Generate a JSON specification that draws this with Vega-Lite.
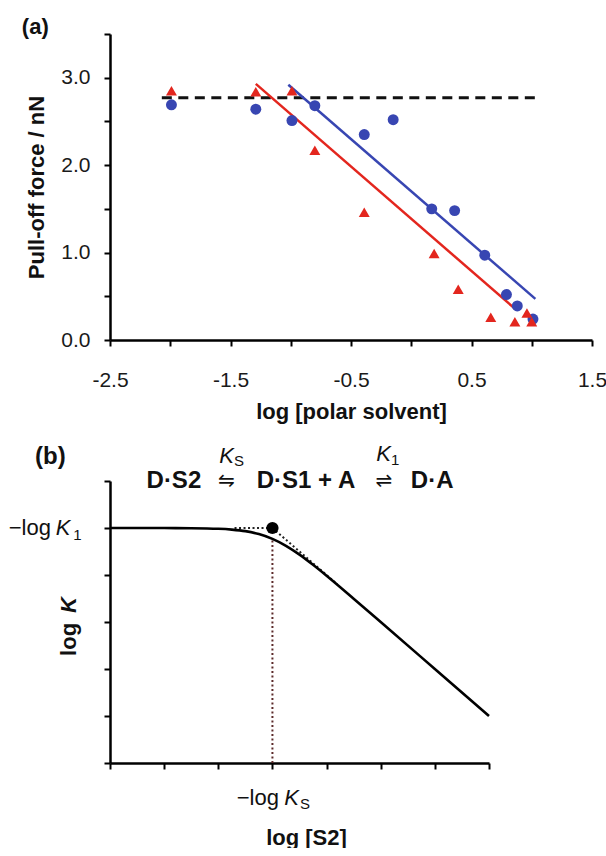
{
  "$schema": "https://vega.github.io/schema/vega-lite/v6.json",
  "background": "white",
  "padding": {"left": 8, "top": 16, "right": 0, "bottom": 0},
  "spacing": 20,
  "config": {
    "view": {"stroke": null},
    "font": "Liberation Sans",
    "axis": {
      "domainColor": "#000", "domainWidth": 2.5, "tickColor": "#000", "tickWidth": 2, "tickSize": 6,
      "labelFont": "Liberation Sans", "labelFontSize": 21, "labelColor": "#1a1a1a",
      "titleFont": "Liberation Sans", "titleFontSize": 22, "titleFontWeight": "bold", "titleColor": "#111",
      "grid": false, "labelFlush": false, "labelOverlap": false
    },
    "text": {"font": "Liberation Sans", "color": "#111"}
  },
  "datasets": {
    "pts": [
      {"series": "circle", "x": -1.99, "y": 2.69},
      {"series": "circle", "x": -1.29, "y": 2.64},
      {"series": "circle", "x": -0.99, "y": 2.51},
      {"series": "circle", "x": -0.8, "y": 2.68},
      {"series": "circle", "x": -0.39, "y": 2.35},
      {"series": "circle", "x": -0.15, "y": 2.52},
      {"series": "circle", "x": 0.17, "y": 1.5},
      {"series": "circle", "x": 0.36, "y": 1.48},
      {"series": "circle", "x": 0.61, "y": 0.97},
      {"series": "circle", "x": 0.79, "y": 0.52},
      {"series": "circle", "x": 0.88, "y": 0.39},
      {"series": "circle", "x": 1.01, "y": 0.24},
      {"series": "triangle", "x": -1.99, "y": 2.85},
      {"series": "triangle", "x": -1.29, "y": 2.84},
      {"series": "triangle", "x": -0.99, "y": 2.85},
      {"series": "triangle", "x": -0.8, "y": 2.17},
      {"series": "triangle", "x": -0.39, "y": 1.46},
      {"series": "triangle", "x": 0.19, "y": 0.99},
      {"series": "triangle", "x": 0.39, "y": 0.58},
      {"series": "triangle", "x": 0.66, "y": 0.26},
      {"series": "triangle", "x": 0.86, "y": 0.21},
      {"series": "triangle", "x": 0.96, "y": 0.31},
      {"series": "triangle", "x": 1.0, "y": 0.21}
    ],
    "fits": [
      {"series": "circle", "x": -1.02, "y": 2.92},
      {"series": "circle", "x": 1.03, "y": 0.47},
      {"series": "triangle", "x": -1.29, "y": 2.93},
      {"series": "triangle", "x": 0.85, "y": 0.37}
    ],
    "plateau": [{"x": -2.07, "y": 2.77}, {"x": 1.03, "y": 2.77}],
    "curve": [
      {"x": 0, "y": 5.0}, {"x": 1, "y": 4.999}, {"x": 1.5, "y": 4.996}, {"x": 2, "y": 4.984},
      {"x": 2.25, "y": 4.966}, {"x": 2.5, "y": 4.933}, {"x": 2.75, "y": 4.871}, {"x": 3, "y": 4.768},
      {"x": 3.25, "y": 4.621}, {"x": 3.5, "y": 4.433}, {"x": 3.75, "y": 4.216}, {"x": 4, "y": 3.984},
      {"x": 4.5, "y": 3.496}, {"x": 5, "y": 2.999}, {"x": 6, "y": 2.0}, {"x": 7, "y": 1.0}
    ],
    "guides": [
      {"seg": "h", "x": 2.3, "y": 5}, {"seg": "h", "x": 3, "y": 5},
      {"seg": "d", "x": 3, "y": 5}, {"seg": "d", "x": 4.2, "y": 3.8}
    ],
    "vguide": [{"x": 3, "y": 0}, {"x": 3, "y": 4.77}],
    "knee": [{"x": 3, "y": 5}]
  },
  "vconcat": [
    {
      "width": 482,
      "height": 306,
      "encoding": {
        "x": {
          "field": "x", "type": "quantitative",
          "scale": {"domain": [-2.5, 1.5], "nice": false, "zero": false},
          "axis": {
            "values": [-2.5, -2, -1.5, -1, -0.5, 0, 0.5, 1, 1.5],
            "labelExpr": "datum.value == -2.5 ? '-2.5' : datum.value == -1.5 ? '-1.5' : datum.value == -0.5 ? '-0.5' : datum.value == 0.5 ? '0.5' : datum.value == 1.5 ? '1.5' : ''",
            "labelPadding": 23, "titlePadding": 11, "title": "log [polar solvent]"
          }
        },
        "y": {
          "field": "y", "type": "quantitative",
          "scale": {"domain": [0, 3.5], "nice": false, "zero": false},
          "axis": {
            "values": [0, 0.5, 1, 1.5, 2, 2.5, 3, 3.5],
            "labelExpr": "datum.value % 1 == 0 ? format(datum.value, '.1f') : ''",
            "labelPadding": 14, "titlePadding": 12, "title": "Pull-off force / nN"
          }
        }
      },
      "layer": [
        {
          "data": {"name": "plateau"},
          "mark": {"type": "line", "color": "#111", "strokeWidth": 3, "strokeDash": [10, 6.5]},
          "encoding": {}
        },
        {
          "data": {"name": "fits"},
          "mark": {"type": "line", "strokeWidth": 2.5},
          "encoding": {
            "color": {"field": "series", "type": "nominal", "scale": {"domain": ["circle", "triangle"], "range": ["#3846b2", "#e3261e"]}, "legend": null}
          }
        },
        {
          "data": {"name": "pts"},
          "mark": {"type": "point", "filled": true, "opacity": 1, "size": 120, "strokeWidth": 0},
          "encoding": {
            "color": {"field": "series", "type": "nominal", "legend": null},
            "shape": {"field": "series", "type": "nominal", "scale": {"domain": ["circle", "triangle"], "range": ["circle", "triangle-up"]}, "legend": null}
          }
        },
        {
          "data": {"values": [{"t": "(a)", "x": -3.12, "y": 3.58}]},
          "mark": {"type": "text", "fontWeight": "bold", "fontSize": 22, "align": "center", "baseline": "middle"},
          "encoding": {"text": {"field": "t", "type": "nominal"}}
        }
      ]
    },
    {
      "width": 379,
      "height": 282,
      "encoding": {
        "x": {
          "field": "x", "type": "quantitative",
          "scale": {"domain": [0, 7], "nice": false, "zero": false},
          "axis": {"values": [0, 1, 2, 3, 4, 5, 6, 7], "labels": false, "title": "log [S2]", "titlePadding": 57, "titleX": 196}
        },
        "y": {
          "field": "y", "type": "quantitative",
          "scale": {"domain": [0, 6], "nice": false, "zero": false},
          "axis": {"values": [0, 1, 2, 3, 4, 5, 6], "labels": false, "title": null}
        }
      },
      "layer": [
        {
          "data": {"name": "vguide"},
          "mark": {"type": "line", "color": "#5c2a2a", "strokeWidth": 2, "strokeDash": [2, 2.5]},
          "encoding": {}
        },
        {
          "data": {"name": "guides"},
          "mark": {"type": "line", "color": "#222", "strokeWidth": 2, "strokeDash": [2, 2.5]},
          "encoding": {"detail": {"field": "seg", "type": "nominal"}}
        },
        {
          "data": {"name": "curve"},
          "mark": {"type": "line", "color": "#000", "strokeWidth": 2.6, "interpolate": "monotone"},
          "encoding": {}
        },
        {
          "data": {"name": "knee"},
          "mark": {"type": "point", "shape": "circle", "filled": true, "color": "#000", "opacity": 1, "size": 150},
          "encoding": {}
        },
        {
          "data": {"values": [
            {"t": "D·S2", "x": 1.18, "y": 6.0},
            {"t": "D·S1 + A", "x": 3.62, "y": 6.0},
            {"t": "D·A", "x": 5.95, "y": 6.0},
            {"t": "(b)", "x": -1.1, "y": 6.52}
          ]},
          "mark": {"type": "text", "fontWeight": "bold", "fontSize": 24, "align": "center", "baseline": "middle"},
          "encoding": {"text": {"field": "t", "type": "nominal"}}
        },
        {
          "data": {"values": [
            {"t": "⇋", "x": 2.15, "y": 6.0},
            {"t": "⇌", "x": 5.06, "y": 6.0}
          ]},
          "mark": {"type": "text", "font": "DejaVu Sans", "fontSize": 20, "align": "center", "baseline": "middle"},
          "encoding": {"text": {"field": "t", "type": "nominal"}}
        },
        {
          "data": {"values": [
            {"t": "K", "x": 2.29, "y": 6.53},
            {"t": "K", "x": 5.19, "y": 6.58}
          ]},
          "mark": {"type": "text", "fontStyle": "italic", "fontSize": 22, "align": "right", "baseline": "middle"},
          "encoding": {"text": {"field": "t", "type": "nominal"}}
        },
        {
          "data": {"values": [
            {"t": "S", "x": 2.29, "y": 6.43},
            {"t": "1", "x": 5.19, "y": 6.45},
            {"t": "S", "x": 3.51, "y": -0.87},
            {"t": "1", "x": -0.68, "y": 4.85}
          ]},
          "mark": {"type": "text", "fontSize": 15, "align": "left", "baseline": "middle"},
          "encoding": {"text": {"field": "t", "type": "nominal"}}
        },
        {
          "data": {"values": [
            {"t": "−log", "x": 3.12, "y": -0.75},
            {"t": "−log", "x": -1.09, "y": 5.0}
          ]},
          "mark": {"type": "text", "fontSize": 22, "align": "right", "baseline": "middle"},
          "encoding": {"text": {"field": "t", "type": "nominal"}}
        },
        {
          "data": {"values": [
            {"t": "K", "x": 3.22, "y": -0.75},
            {"t": "K", "x": -1.0, "y": 5.0}
          ]},
          "mark": {"type": "text", "fontStyle": "italic", "fontSize": 22, "align": "left", "baseline": "middle"},
          "encoding": {"text": {"field": "t", "type": "nominal"}}
        },
        {
          "data": {"values": [{"t": "log", "x": -0.76, "y": 2.63}]},
          "mark": {"type": "text", "fontWeight": "bold", "fontSize": 22, "align": "center", "baseline": "middle", "angle": 270},
          "encoding": {"text": {"field": "t", "type": "nominal"}}
        },
        {
          "data": {"values": [{"t": "K", "x": -0.76, "y": 3.36}]},
          "mark": {"type": "text", "fontWeight": "bold", "fontStyle": "italic", "fontSize": 22, "align": "center", "baseline": "middle", "angle": 270},
          "encoding": {"text": {"field": "t", "type": "nominal"}}
        }
      ]
    }
  ]
}
